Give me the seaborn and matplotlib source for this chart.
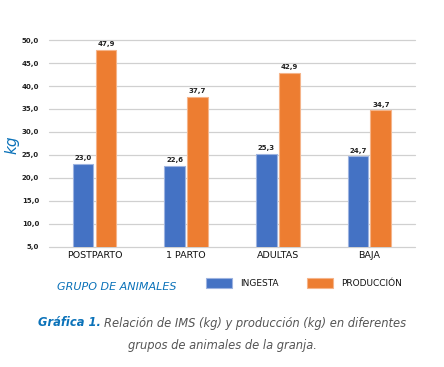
import matplotlib
matplotlib.use("Agg")
import matplotlib.pyplot as plt
import seaborn as sns
import pandas as pd
from matplotlib.patches import Rectangle

categories = ["POSTPARTO", "1 PARTO", "ADULTAS", "BAJA"]
ingesta = [23.0, 22.6, 25.3, 24.7]
produccion = [47.9, 37.7, 42.9, 34.7]
series_names = ["INGESTA", "PRODUCCIÓN"]
yticks = [5, 10, 15, 20, 25, 30, 35, 40, 45, 50]

df = pd.DataFrame({
    "grupo": categories * 2,
    "serie": [series_names[0]] * 4 + [series_names[1]] * 4,
    "valor": ingesta + produccion,
})

sns.set_style("white")
plt.rcParams["font.family"] = ["DejaVu Sans"]

colors = {"INGESTA": "#4472C4", "PRODUCCIÓN": "#ED7D31"}
edge = {"INGESTA": "#9DB3E0", "PRODUCCIÓN": "#F5B48A"}

fig = plt.figure(figsize=(4.44, 3.67), dpi=100)
ax = fig.add_axes([0.110, 0.327, 0.825, 0.564])

sns.barplot(data=df, x="grupo", y="valor", hue="serie", palette=colors,
            saturation=1, width=0.5, gap=0.1, ax=ax, legend=False)

for cont, name in zip(ax.containers, series_names):
    for bar in cont:
        bar.set_edgecolor(edge[name])
        bar.set_linewidth(0.8)
    ax.bar_label(cont, labels=[f"{v:.1f}".replace(".", ",") for v in cont.datavalues],
                 padding=2, fontsize=5, fontweight="bold", color="#222222")

ax.set_ylim(5, 50)
ax.set_yticks(yticks)
ax.set_yticklabels([f"{v:.1f}".replace(".", ",") for v in yticks],
                   fontsize=5, fontweight="bold", color="#222222")
ax.yaxis.grid(True, color="#D0D0D0", linewidth=0.9)
for gl in ax.yaxis.get_gridlines():
    gl.set_clip_on(False)
ax.set_axisbelow(True)
for s in ax.spines.values():
    s.set_visible(False)
ax.tick_params(axis="both", length=0)
ax.tick_params(axis="y", pad=7)
ax.tick_params(axis="x", pad=3)
ax.set_xticks(range(len(categories)))
ax.set_xticklabels(categories, fontsize=6.8, color="#111111")
ax.set_xlabel("")
ax.set_ylabel("")
ax.set_xlim(-0.5, 3.5)

blue = "#0B72B9"
fig.text(0.027, 0.605, "kg", rotation=90, fontsize=11, style="italic",
         color=blue, ha="center", va="center")
fig.text(0.128, 0.218, "GRUPO DE ANIMALES", fontsize=8, style="italic",
         color=blue, ha="left", va="center")

W, H = 444, 367
for (x0, name) in [(206, "INGESTA"), (307, "PRODUCCIÓN")]:
    fig.add_artist(Rectangle((x0 / W, 1 - 288 / H), 26 / W, 10 / H,
                             facecolor=colors[name], edgecolor=edge[name],
                             linewidth=0.8, transform=fig.transFigure))
fig.text(240 / W, 1 - 283 / H, "INGESTA", fontsize=6.5, ha="left", va="center",
         color="#111111")
fig.text(341 / W, 1 - 283 / H, "PRODUCCIÓN", fontsize=6.5, ha="left", va="center",
         color="#111111")

fig.canvas.draw()
r = fig.canvas.get_renderer()
t1 = fig.text(0, 1 - 323 / H, "Gráfica 1. ", fontsize=8.3, style="italic",
              fontweight="bold", color=blue, ha="left", va="center")
t2 = fig.text(0, 1 - 323 / H, "Relación de IMS (kg) y producción (kg) en diferentes",
              fontsize=8.3, style="italic", color="#555555", ha="left", va="center")
w1 = t1.get_window_extent(r).width / fig.bbox.width
w2 = t2.get_window_extent(r).width / fig.bbox.width
start = 0.5 - (w1 + w2) / 2
t1.set_x(start)
t2.set_x(start + w1)
fig.text(0.5, 1 - 345 / H, "grupos de animales de la granja.", fontsize=8.3,
         style="italic", color="#555555", ha="center", va="center")

fig.savefig("out.png", dpi=100)
